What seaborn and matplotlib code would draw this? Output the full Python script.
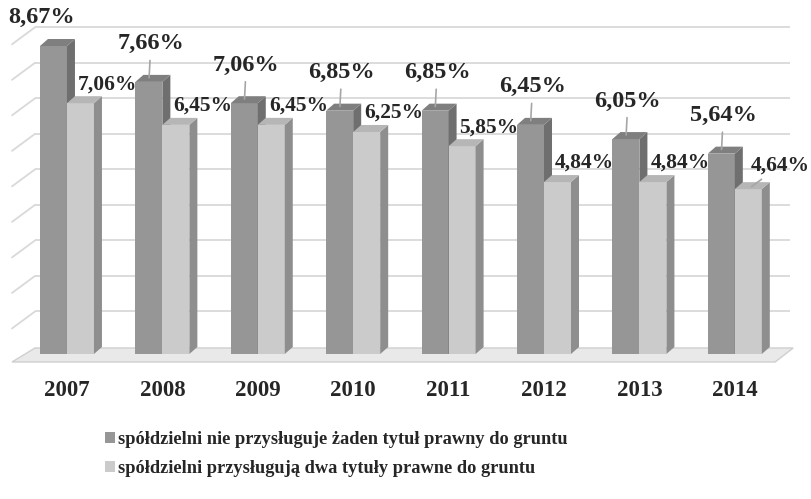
import numpy as np
import pandas as pd
import seaborn as sns
import matplotlib.pyplot as plt
from matplotlib.patches import Polygon
from matplotlib.lines import Line2D
from matplotlib.transforms import IdentityTransform

years = ["2007", "2008", "2009", "2010", "2011", "2012", "2013", "2014"]
no_title = [8.67, 7.66, 7.06, 6.85, 6.85, 6.45, 6.05, 5.64]
two_titles = [7.06, 6.45, 6.45, 6.25, 5.85, 4.84, 4.84, 4.64]
series = ["spółdzielni nie przysługuje żaden tytuł prawny do gruntu",
          "spółdzielni przysługują dwa tytuły prawne do gruntu"]

df = pd.DataFrame({"Rok": years * 2,
                   "Udział": no_title + two_titles,
                   "Seria": [series[0]] * len(years) + [series[1]] * len(years)})

sns.set_style("white")
plt.rcParams["font.family"] = ["Liberation Serif", "DejaVu Serif"]
plt.rcParams["font.weight"] = "bold"

fig = plt.figure(figsize=(8.12, 4.99), dpi=100)
ax = fig.add_axes([0.0431, 0.2906, 0.930, 0.6834])

sns.barplot(data=df, x="Rok", y="Udział", hue="Seria",
            palette=["#969696", "#cbcbcb"], width=0.566, saturation=1,
            edgecolor="none", linewidth=0, ax=ax)

ax.set_xlim(-0.335, 7.58)
ax.set_ylim(0, 9.6)
fig.canvas.draw()

ident = IdentityTransform()
dx, dy = 8, 7  # depth of the 3D effect, in pixels

# back wall gridlines with a slanted left wall part
left, right = ax.transAxes.transform((0, 0))[0], ax.transAxes.transform((1, 0))[0]
for v in range(1, 10):
    y = ax.transData.transform((0, v))[1] + dy
    ax.add_line(Line2D([left, right + 10], [y, y], transform=ident,
                       color="#d9d9d9", lw=1.3, zorder=0))
    ax.add_line(Line2D([left - 23, left], [y - 17, y], transform=ident,
                       color="#d9d9d9", lw=1.3, zorder=0, clip_on=False))

# floor
y0 = ax.transData.transform((0, 0))[1]
floor = Polygon([(left - 23, y0 - 8), (right - 15, y0 - 8), (right + 3, y0 + 6), (left, y0 + 6)],
                closed=True, transform=ident, facecolor="#e9e9e9", edgecolor="#cfcfcf",
                lw=1, zorder=0.5, clip_on=False)
ax.add_patch(floor)

bars = list(ax.patches[:2 * len(years)])
face_cols = [("#6f6f6f", "#7f7f7f"), ("#8e8e8e", "#b6b6b6")]
for i, p in enumerate(bars):
    s = i // len(years)
    base_z = 2 + s
    p.set_zorder(base_z)
    x0, w, h = p.get_x(), p.get_width(), p.get_height()
    X0, Y0 = ax.transData.transform((x0, 0))
    X1, Yh = ax.transData.transform((x0 + w, h))
    side = Polygon([(X1, Y0), (X1, Yh), (X1 + dx, Yh + dy), (X1 + dx, Y0 + dy)],
                   closed=True, transform=ident, facecolor=face_cols[s][0],
                   edgecolor="none", zorder=base_z + 0.5, clip_on=False)
    top = Polygon([(X0, Yh), (X1, Yh), (X1 + dx, Yh + dy), (X0 + dx, Yh + dy)],
                  closed=True, transform=ident, facecolor=face_cols[s][1],
                  edgecolor="none", zorder=base_z + 0.5, clip_on=False)
    ax.add_patch(side)
    ax.add_patch(top)

    xc = x0 + w / 2
    label = f"{h:.2f}%".replace(".", ",")
    if s == 0:
        if i == 0:
            ax.annotate(label, xy=(xc, h), xytext=(-12, 29),
                        textcoords="offset pixels", ha="center", va="center",
                        fontsize=17.5, fontweight="bold", zorder=6)
        else:
            ax.annotate(label, xy=(xc, h), xytext=(2, 38),
                        textcoords="offset pixels", ha="center", va="center",
                        fontsize=17.5, fontweight="bold", zorder=6,
                        arrowprops=dict(arrowstyle="-", color="#a6a6a6", lw=1.2,
                                        shrinkA=2, shrinkB=-3))
    else:
        last = i == 2 * len(years) - 1
        ax.annotate(label, xy=(xc, h),
                    xytext=(32, 24) if last else (27, 19),
                    textcoords="offset pixels", ha="center", va="center",
                    fontsize=15.5, fontweight="bold", zorder=6,
                    arrowprops=dict(arrowstyle="-", color="#a6a6a6", lw=1.2,
                                    shrinkA=1, shrinkB=-3) if last else None)

sns.despine(ax=ax, left=True, bottom=True)
ax.set_yticks([])
ax.set_xlabel("")
ax.set_ylabel("")
ax.tick_params(axis="x", length=0, pad=19, labelsize=16.5)
for t in ax.get_xticklabels():
    t.set_fontweight("bold")

sns.move_legend(ax, "upper left", bbox_to_anchor=(0.118, 0.155),
                bbox_transform=fig.transFigure, frameon=False, title=None,
                fontsize=13.2, handlelength=0.55, handleheight=0.55,
                handletextpad=0.15, labelspacing=0.68, borderpad=0)
for t in ax.get_legend().get_texts():
    t.set_fontweight("bold")

fig.savefig("out.png", dpi=100)
